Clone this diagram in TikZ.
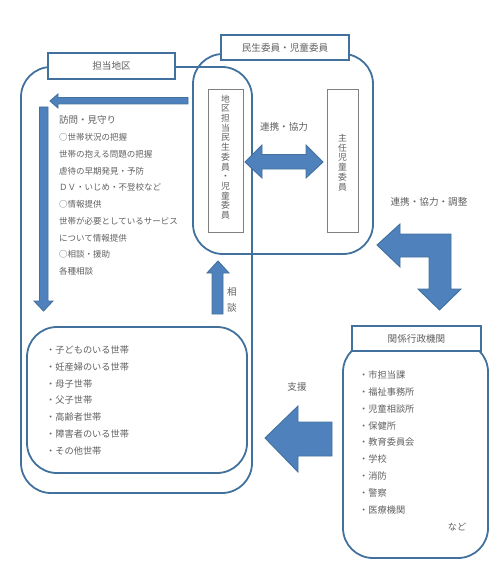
\documentclass[tikz,border=0pt]{standalone}
\usepackage{fontspec}
\newfontfamily\cjk{Noto Sans CJK JP}
\definecolor{frame}{HTML}{41719C}
\definecolor{afill}{HTML}{4F81BD}
\definecolor{txt}{HTML}{606060}
\begin{document}
\begin{tikzpicture}[x=1pt,y=-1pt,
  region/.style={draw=frame,line width=1.8pt,rounded corners=30pt},
  titlebox/.style={draw=frame,line width=1.8pt,fill=white,inner sep=0pt,font=\cjk\fontsize{9.6}{11}\selectfont,text=txt},
  pillar/.style={draw=gray,line width=0.8pt,fill=white},
  bigarrow/.style={fill=afill,draw=frame,line width=0.9pt,line join=miter},
  lbl/.style={font=\cjk\fontsize{9.6}{11}\selectfont,text=txt,inner sep=0pt},
  item/.style={font=\cjk\fontsize{8.5}{10}\selectfont,text=txt,inner sep=0pt,anchor=west},
  bitem/.style={font=\cjk\fontsize{9.2}{10}\selectfont,text=txt,inner sep=0pt,anchor=west},
  vtext/.style={font=\cjk\fontsize{8.8}{9.7}\selectfont,text=txt,align=center,inner sep=0pt}]
\useasboundingbox (0,0) rectangle (500,567);
% regions
\draw[region] (21,67) rectangle (252,493);
\draw[region] (193,54) rectangle (373,254);
\draw[region] (27,327) rectangle (247,473);
\draw[region] (343,342) rectangle (488,558);
% title boxes
\node[titlebox,minimum width=127pt,minimum height=26pt] (tanto) at (111.5,66) {担当地区};
\node[titlebox,minimum width=128pt,minimum height=25pt] (minsei) at (285,47.5) {民生委員・児童委員};
\node[titlebox,minimum width=129pt,minimum height=25pt] (gyosei) at (416.5,338.5) {関係行政機関};
% pillars
\draw[pillar] (208,89) rectangle (243,232);
\draw[pillar] (327,89) rectangle (358,232);
\node[vtext] (chiku) at (225.5,157) {地\\区\\担\\当\\民\\生\\委\\員\\・\\児\\童\\委\\員};
\node[vtext] (shunin) at (342.5,162.5) {主\\任\\児\\童\\委\\員};
% arrows
\path[bigarrow] (50,101) -- (58,94) -- (58,97.5) -- (188,97.5) -- (188,104) -- (58,104) -- (58,108) -- cycle;
\path[bigarrow] (39.5,107) -- (48,107) -- (48,301) -- (53,301) -- (43.5,311) -- (34,301) -- (39.5,301) -- cycle;
\path[bigarrow] (212,314) -- (212,273) -- (207,273) -- (218,261) -- (229,273) -- (223,273) -- (223,314) -- cycle;
\path[bigarrow] (245,162) -- (262,145) -- (262,154.5) -- (306,154.5) -- (306,145) -- (323,162) -- (306,178) -- (306,169) -- (262,169) -- (262,178) -- cycle;
\path[bigarrow] (377,245) -- (400,224) -- (400,234) -- (451,234) -- (451,289) -- (461,289) -- (439.5,310) -- (418,289) -- (429,289) -- (429,257) -- (400,257) -- (400,267) -- cycle;
\path[bigarrow] (265,438) -- (298,406) -- (298,422) -- (332,422) -- (332,456) -- (298,456) -- (298,472) -- cycle;
% labels
\node[lbl] (renkei) at (284,127) {連携・協力};
\node[lbl] (renkei2) at (429,202) {連携・協力・調整};
\node[lbl] (shien) at (297,387) {支援};
\node[lbl,align=center] (sodan) at (232,300) {相\\[5pt]談};
% district list
\node[item,font=\cjk\fontsize{9.5}{10}\selectfont] (l1) at (59,120) {訪問・見守り};
\node[item] (l2) at (59,137) {○世帯状況の把握};
\node[item] (l3) at (59,154) {世帯の抱える問題の把握};
\node[item] (l4) at (59,171) {虐待の早期発見・予防};
\node[item] (l5) at (59,187.5) {ＤＶ・いじめ・不登校など};
\node[item] (l6) at (59,204) {○情報提供};
\node[item] (l7) at (59,221) {世帯が必要としているサービス};
\node[item] (l8) at (59,238) {について情報提供};
\node[item] (l9) at (59,254.5) {○相談・援助};
\node[item] (l10) at (59,271) {各種相談};
% households
\node[bitem] (h1) at (46,350) {・子どものいる世帯};
\node[bitem] (h2) at (46,367) {・妊産婦のいる世帯};
\node[bitem] (h3) at (46,384) {・母子世帯};
\node[bitem] (h4) at (46,400.5) {・父子世帯};
\node[bitem] (h5) at (46,417) {・高齢者世帯};
\node[bitem] (h6) at (46,434) {・障害者のいる世帯};
\node[bitem] (h7) at (46,451) {・その他世帯};
% agencies
\node[bitem] (a1) at (359,375) {・市担当課};
\node[bitem] (a2) at (359,392) {・福祉事務所};
\node[bitem] (a3) at (359,409) {・児童相談所};
\node[bitem] (a4) at (359,426) {・保健所};
\node[bitem] (a5) at (359,442.5) {・教育委員会};
\node[bitem] (a6) at (359,459) {・学校};
\node[bitem] (a7) at (359,476) {・消防};
\node[bitem] (a8) at (359,493) {・警察};
\node[bitem] (a9) at (359,510) {・医療機関};
\node[lbl,font=\cjk\fontsize{9.2}{10}\selectfont] (nado) at (457,527) {など};
\end{tikzpicture}
\end{document}
